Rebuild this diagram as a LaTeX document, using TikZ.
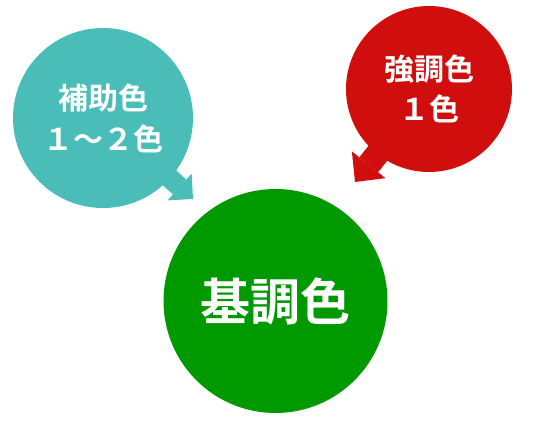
\documentclass[tikz,border=0pt]{standalone}
\usepackage{fontspec}
\usepackage{tikz}
\usetikzlibrary{arrows.meta,backgrounds}
\newfontfamily\cjk{Noto Sans CJK JP}[BoldFont={Noto Sans CJK JP Bold}]
\definecolor{subcol}{RGB}{75,189,184}
\definecolor{accentcol}{RGB}{208,14,14}
\definecolor{basecol}{RGB}{0,153,0}
\tikzset{
  colorball/.style={circle,fill=#1,text=white,inner sep=0pt,align=center},
  pointer/.style={#1,line width=20pt,-{Triangle[length=18pt,width=36pt,line width=0pt]}},
  bigpointer/.style={#1,line width=24pt,-{Triangle[length=22pt,width=43pt,line width=0pt]}}
}
\begin{document}
\begin{tikzpicture}[x=1pt,y=-1pt]
        \useasboundingbox (0,0) rectangle (535,422);
        \coordinate (subtip) at (193,199);
        \coordinate (accenttip) at (355,182);
        \node[colorball=subcol,minimum size=180pt,font=\cjk\bfseries\fontsize{30}{41}\selectfont] (sub) at (103,118) {補助色\\１～２色};
        \node[colorball=accentcol,minimum size=166pt,font=\cjk\bfseries\fontsize{30}{40}\selectfont] (accent) at (429,89) {強調色\\１色};
        \node[colorball=basecol,minimum size=224pt,font=\cjk\bfseries\fontsize{50}{60}\selectfont] (base) at (275.5,301) {基調色};
        \begin{pgfonlayer}{background}
        \draw[pointer=subcol] (sub.center) -- (subtip);
        \draw[bigpointer=accentcol] (accent.center) -- (accenttip);
        \end{pgfonlayer}
    \end{tikzpicture}
\end{document}
